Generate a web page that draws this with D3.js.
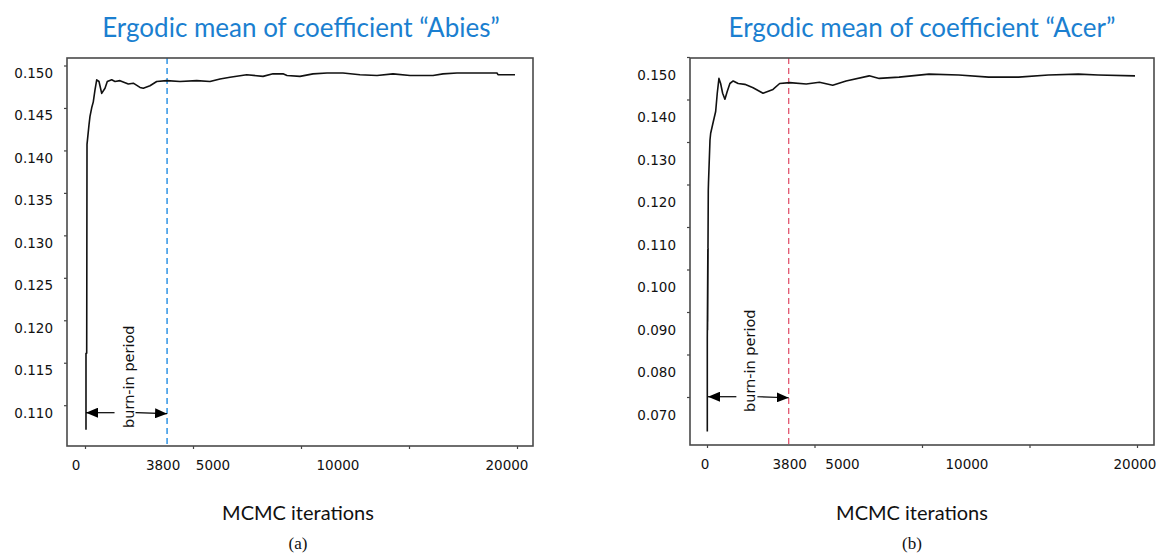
<!DOCTYPE html>
<html>
<head>
<meta charset="utf-8">
<script src="https://cdn.jsdelivr.net/npm/d3@7"></script>
<style>
  html, body { margin: 0; padding: 0; background: #fff; }
  svg { display: block; }
</style>
</head>
<body>
<svg id="chart" width="1164" height="555"></svg>
<script>
// ---- data -------------------------------------------------------------
const iterTicks = [0, 5000, 10000, 15000, 20000];
const iterLabels = [0, 3800, 5000, 10000, 20000];
const burnIn = 3800;

const abiesTitle = "Ergodic mean of coefficient \u201cAbies\u201d";
const abiesYLabels = [0.110, 0.115, 0.120, 0.125, 0.130, 0.135, 0.140, 0.145, 0.150];
const abiesIter = [46, 46, 79, 93, 185, 231, 310, 384, 463, 542, 648, 773, 926, 1032, 1236,
  1389, 1620, 2005, 2236, 2546, 2699, 3009, 3319, 3782, 4398, 5171, 5787, 6250, 6713,
  7486, 8241, 8704, 9167, 9352, 9954, 10556, 11204, 11944, 12731, 13519, 14259, 15046,
  16111, 16574, 17222, 19074, 19120, 19907];
const abiesMean = [0.1080, 0.1170, 0.1170, 0.1416, 0.1439, 0.1449, 0.1459, 0.1466, 0.1480,
  0.1492, 0.1490, 0.1476, 0.1482, 0.1490, 0.1492, 0.1490, 0.1491, 0.1487, 0.1488, 0.1483,
  0.1482, 0.1485, 0.1490, 0.1491, 0.1490, 0.1491, 0.1490, 0.1493, 0.1495, 0.1498, 0.1496,
  0.1499, 0.1499, 0.1497, 0.1496, 0.1499, 0.1500, 0.1500, 0.1498, 0.1497, 0.1499, 0.1497,
  0.1497, 0.1499, 0.1500, 0.1500, 0.1498, 0.1498];

const acerTitle = "Ergodic mean of coefficient \u201cAcer\u201d";
const acerYLabels = [0.070, 0.080, 0.090, 0.100, 0.110, 0.120, 0.130, 0.140, 0.150];
const acerIter = [14, 14, 40, 25, 45, 30, 50, 46, 60, 69, 139, 171, 292, 403, 477, 556, 634,
  727, 833, 940, 1065, 1218, 1449, 1759, 2144, 2606, 3069, 3380, 3843, 4616, 5231, 5847,
  6468, 7546, 8009, 8935, 10324, 11713, 13102, 14491, 15880, 17269, 18194, 19907];
const acerMean = [0.0661, 0.0881, 0.1090, 0.0900, 0.1080, 0.0920, 0.1093, 0.1093, 0.1229,
  0.1246, 0.1347, 0.1363, 0.1390, 0.1414, 0.1457, 0.1492, 0.1480, 0.1457, 0.1443, 0.1461,
  0.1480, 0.1486, 0.1480, 0.1478, 0.1470, 0.1457, 0.1466, 0.1480, 0.1482, 0.1479, 0.1483,
  0.1476, 0.1486, 0.1498, 0.1492, 0.1495, 0.1502, 0.1500, 0.1495, 0.1495, 0.1500, 0.1502,
  0.1500, 0.1498];

// ---- drawing ----------------------------------------------------------
const svg = d3.select("#chart");
const tickFont = "'DejaVu Sans', Verdana, sans-serif";
const titleFont = "Lato, 'Open Sans', sans-serif";

const panels = [
  {
    title: abiesTitle, caption: "(a)", iter: abiesIter, mean: abiesMean, yLabels: abiesYLabels,
    box: { x0: 67, x1: 533, y0: 58, y1: 446 },
    xRange: [85, 517], yDomain: [0.110, 0.150], yRange: [412.7, 73],
    yFmt: d3.format(".3f"), dashColor: "#3d9be6", dashWidth: 1.6,
    labelNudge: [-9, -4, 20, 37, -10], yTickNudge: -7.5,
    arrowValue: 0.110, centerX: 298, titleX: 301
  },
  {
    title: acerTitle, caption: "(b)", iter: acerIter, mean: acerMean, yLabels: acerYLabels,
    box: { x0: 690, x1: 1154, y0: 58, y1: 445 },
    xRange: [707, 1137], yDomain: [0.070, 0.150], yRange: [415, 75],
    yFmt: d3.format(".3f"), dashColor: "#e2566f", dashWidth: 1.3,
    labelNudge: [-2, 1, 28, 45, -2], yTickNudge: -18,
    arrowValue: 0.0743, centerX: 912, titleX: 922
  }
];

// arrowhead marker
svg.append("defs").append("marker")
  .attr("id", "head")
  .attr("viewBox", "0 0 12 10")
  .attr("refX", 12).attr("refY", 5)
  .attr("markerWidth", 12).attr("markerHeight", 10)
  .attr("markerUnits", "userSpaceOnUse")
  .attr("orient", "auto")
  .append("path").attr("d", "M0,0 L12,5 L0,10 Z").attr("fill", "#000");

panels.forEach(p => {
  const g = svg.append("g");
  const x = d3.scaleLinear().domain([0, 20000]).range(p.xRange);
  const y = d3.scaleLinear().domain(p.yDomain).range(p.yRange);
  const b = p.box;

  // title
  g.append("text")
    .attr("x", p.titleX).attr("y", 37)
    .attr("text-anchor", "middle")
    .attr("font-family", titleFont).attr("font-size", 26)
    .attr("fill", "#1b7fd0")
    .text(p.title);

  // x tick marks via d3 axis
  const xAxis = d3.axisBottom(x).tickValues(iterTicks).tickSize(3).tickFormat("");
  const xa = g.append("g").attr("transform", `translate(0,${b.y1})`).call(xAxis);
  xa.select(".domain").remove();
  xa.selectAll("line").attr("stroke", "#444").attr("stroke-width", 1.2);

  // x tick labels
  g.append("g").selectAll("text").data(iterLabels).join("text")
    .attr("x", (d, i) => x(d) + p.labelNudge[i])
    .attr("y", b.y1 + 24)
    .attr("text-anchor", "middle")
    .attr("font-family", tickFont).attr("font-size", 13.5)
    .attr("fill", "#111")
    .text(d => d);

  // y tick marks
  const yAxis = d3.axisLeft(y).tickValues(p.yLabels).tickSize(3).tickFormat("");
  const ya = g.append("g").attr("transform", `translate(${b.x0},${p.yTickNudge})`).call(yAxis);
  ya.select(".domain").remove();
  ya.selectAll("line").attr("stroke", "#444").attr("stroke-width", 1.2);

  // y tick labels
  g.append("g").selectAll("text").data(p.yLabels).join("text")
    .attr("x", b.x0 - 14)
    .attr("y", d => y(d))
    .attr("dy", "0.36em")
    .attr("text-anchor", "end")
    .attr("font-family", tickFont).attr("font-size", 13.5)
    .attr("fill", "#111")
    .text(d => p.yFmt(d));

  // burn-in boundary
  g.append("line")
    .attr("x1", x(burnIn)).attr("x2", x(burnIn))
    .attr("y1", b.y0).attr("y2", b.y1)
    .attr("stroke", p.dashColor).attr("stroke-width", p.dashWidth)
    .attr("stroke-dasharray", "6,4");

  // plot frame
  g.append("rect")
    .attr("x", b.x0).attr("y", b.y0)
    .attr("width", b.x1 - b.x0).attr("height", b.y1 - b.y0)
    .attr("fill", "none").attr("stroke", "#4a4a4a").attr("stroke-width", 1.6);

  // ergodic mean trace
  const pts = p.iter.map((it, i) => [it, p.mean[i]]);
  g.append("path")
    .datum(pts)
    .attr("fill", "none")
    .attr("stroke", "#111").attr("stroke-width", 1.6)
    .attr("stroke-linejoin", "round")
    .attr("d", d3.line().x(d => x(d[0])).y(d => y(d[1])));

  // burn-in arrows and label
  const ay = y(p.arrowValue);
  const xl = x(0) + 1, xr = x(burnIn);
  const mid = (xl + xr) / 2;
  g.append("line")
    .attr("x1", mid - 12).attr("x2", xl).attr("y1", ay).attr("y2", ay)
    .attr("stroke", "#000").attr("stroke-width", 1.2).attr("marker-end", "url(#head)");
  g.append("line")
    .attr("x1", mid + 9).attr("x2", xr).attr("y1", ay).attr("y2", ay + 1)
    .attr("stroke", "#000").attr("stroke-width", 1.2).attr("marker-end", "url(#head)");
  g.append("text")
    .attr("transform", `translate(${mid + 2},${ay - 36}) rotate(-90)`)
    .attr("text-anchor", "middle").attr("dy", "0.35em")
    .attr("font-family", tickFont).attr("font-size", 14.5)
    .attr("fill", "#111")
    .text("burn-in period");

  // axis title and caption
  g.append("text")
    .attr("x", p.centerX).attr("y", 520)
    .attr("text-anchor", "middle")
    .attr("font-family", titleFont).attr("font-size", 20)
    .attr("fill", "#111")
    .text("MCMC iterations");
  g.append("text")
    .attr("x", p.centerX).attr("y", 549)
    .attr("text-anchor", "middle")
    .attr("font-family", "'Liberation Serif', serif").attr("font-size", 17)
    .attr("fill", "#111")
    .text(p.caption);
});
</script>
</body>
</html>
